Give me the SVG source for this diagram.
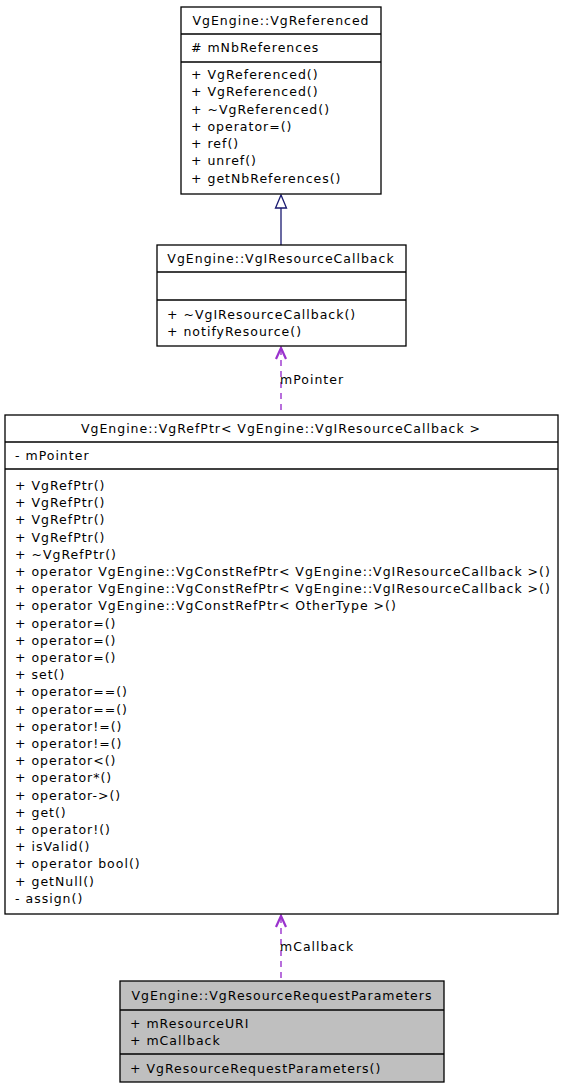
<svg xmlns="http://www.w3.org/2000/svg" width="563" height="1088" viewBox="0 0 563 1088">
<style>
text{font-family:"DejaVu Sans",sans-serif;font-size:12.5px;letter-spacing:1px;fill:#000}
.t{text-anchor:middle}
.box{fill:#fff;stroke:#000;stroke-width:1.3}
.gray{fill:#bfbfbf}
.sep{stroke:#000;stroke-width:1.3}
.inh{stroke:#191970;stroke-width:1.3;fill:none}
.use{stroke:#9a32cd;stroke-width:1.4;fill:none}
.head{stroke:#9a32cd;stroke-width:2.2;fill:none}
.dash{stroke-dasharray:6,5}
</style>
<rect width="563" height="1088" fill="#fff"/>
<g id="connectors">
<line class="inh" x1="281" y1="208" x2="281" y2="245"/>
<polygon class="inh" fill="#fff" points="281,195 275.5,208 286.5,208"/>
<line class="use dash" x1="281" y1="349" x2="281" y2="415"/>
<polyline class="head" points="276,359 281,348 286,359"/>
<text x="280" y="384">mPointer</text>
<line class="use dash" x1="281" y1="917" x2="281" y2="981"/>
<polyline class="head" points="276,927 281,916 286,927"/>
<text x="280" y="951">mCallback</text>
</g>
<g id="VgReferenced">
<rect class="box" x="181" y="7" width="200" height="187"/>
<line class="sep" x1="181" y1="34" x2="381" y2="34"/>
<line class="sep" x1="181" y1="62" x2="381" y2="62"/>
<text class="t" x="281" y="25">VgEngine::VgReferenced</text>
<text x="191" y="52"># mNbReferences</text>
<text x="191" y="79">+ VgReferenced()</text>
<text x="191" y="96">+ VgReferenced()</text>
<text x="191" y="114">+ ~VgReferenced()</text>
<text x="191" y="131">+ operator=()</text>
<text x="191" y="148">+ ref()</text>
<text x="191" y="165">+ unref()</text>
<text x="191" y="183">+ getNbReferences()</text>
</g>
<g id="VgIResourceCallback">
<rect class="box" x="157" y="245" width="249" height="101"/>
<line class="sep" x1="157" y1="272" x2="406" y2="272"/>
<line class="sep" x1="157" y1="300" x2="406" y2="300"/>
<text class="t" x="281" y="263">VgEngine::VgIResourceCallback</text>
<text x="167" y="319">+ ~VgIResourceCallback()</text>
<text x="167" y="336">+ notifyResource()</text>
</g>
<g id="VgRefPtr">
<rect class="box" x="5" y="415" width="553" height="499"/>
<line class="sep" x1="5" y1="442" x2="558" y2="442"/>
<line class="sep" x1="5" y1="469" x2="558" y2="469"/>
<text class="t" x="281" y="433">VgEngine::VgRefPtr&lt; VgEngine::VgIResourceCallback &gt;</text>
<text x="15" y="460">- mPointer</text>
<text x="15" y="490">+ VgRefPtr()</text>
<text x="15" y="507.2">+ VgRefPtr()</text>
<text x="15" y="524.4">+ VgRefPtr()</text>
<text x="15" y="541.6">+ VgRefPtr()</text>
<text x="15" y="558.8">+ ~VgRefPtr()</text>
<text x="15" y="576">+ operator VgEngine::VgConstRefPtr&lt; VgEngine::VgIResourceCallback &gt;()</text>
<text x="15" y="593.2">+ operator VgEngine::VgConstRefPtr&lt; VgEngine::VgIResourceCallback &gt;()</text>
<text x="15" y="610.4">+ operator VgEngine::VgConstRefPtr&lt; OtherType &gt;()</text>
<text x="15" y="627.6">+ operator=()</text>
<text x="15" y="644.8">+ operator=()</text>
<text x="15" y="662">+ operator=()</text>
<text x="15" y="679.2">+ set()</text>
<text x="15" y="696.4">+ operator==()</text>
<text x="15" y="713.6">+ operator==()</text>
<text x="15" y="730.8">+ operator!=()</text>
<text x="15" y="748">+ operator!=()</text>
<text x="15" y="765.2">+ operator&lt;()</text>
<text x="15" y="782.4">+ operator*()</text>
<text x="15" y="799.6">+ operator-&gt;()</text>
<text x="15" y="816.8">+ get()</text>
<text x="15" y="834">+ operator!()</text>
<text x="15" y="851.2">+ isValid()</text>
<text x="15" y="868.4">+ operator bool()</text>
<text x="15" y="885.6">+ getNull()</text>
<text x="15" y="902.8">- assign()</text>
</g>
<g id="VgResourceRequestParameters">
<rect class="box gray" x="120" y="981" width="324" height="101"/>
<line class="sep" x1="120" y1="1010" x2="444" y2="1010"/>
<line class="sep" x1="120" y1="1054" x2="444" y2="1054"/>
<text class="t" x="282" y="1000">VgEngine::VgResourceRequestParameters</text>
<text x="130" y="1028">+ mResourceURI</text>
<text x="130" y="1045">+ mCallback</text>
<text x="130" y="1073">+ VgResourceRequestParameters()</text>
</g>
</svg>
